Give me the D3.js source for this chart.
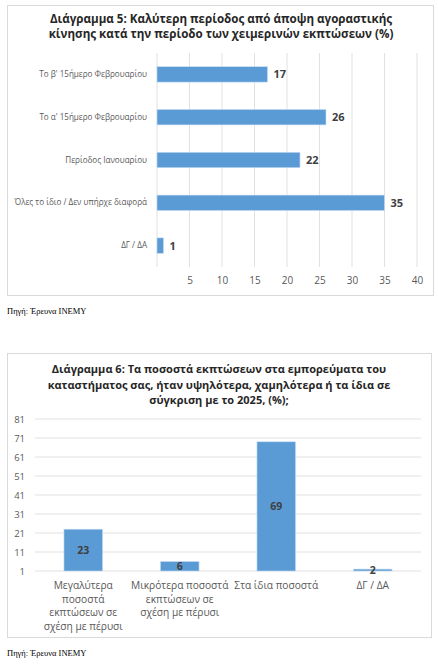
<!DOCTYPE html>
<html>
<head>
<meta charset="utf-8">
<script src="https://cdn.jsdelivr.net/npm/d3@7"></script>
<style>
  body { margin: 0; background: #fff; }
  svg { display: block; font-family: "Open Sans", "Noto Sans", sans-serif; }
</style>
</head>
<body>
<div id="chart"></div>
<script>
// Διάγραμμα 5
const periods = ["Το β' 15ήμερο Φεβρουαρίου", "Το α' 15ήμερο Φεβρουαρίου", "Περίοδος Ιανουαρίου", "Όλες το ίδιο / Δεν υπήρχε διαφορά", "ΔΓ / ΔΑ"];
const periodValues = [17, 26, 22, 35, 1];
const xTicks1 = [5, 10, 15, 20, 25, 30, 35, 40];

// Διάγραμμα 6
const discountCats = [
  ["Μεγαλύτερα", "ποσοστά", "εκπτώσεων σε", "σχέση με πέρυσι"],
  ["Μικρότερα ποσοστά", "εκπτώσεων σε", "σχέση με πέρυσι"],
  ["Στα ίδια ποσοστά"],
  ["ΔΓ / ΔΑ"]
];
const discountValues = [23, 6, 69, 2];
const yTicks2 = [1, 11, 21, 31, 41, 51, 61, 71, 81];

const source = "Πηγή: Έρευνα ΙΝΕΜΥ";
const barColor = "#5b9bd5";
const gridColor = "#d9d9d9";

const svg = d3.select("#chart").append("svg")
  .attr("width", 438)
  .attr("height", 664);

// ---------- Chart 5 ----------
svg.append("rect")
  .attr("x", 7.5).attr("y", 5.5).attr("width", 426).attr("height", 290)
  .attr("fill", "#fff").attr("stroke", "#d9d9d9");

const title1 = ["Διάγραμμα 5: Καλύτερη περίοδος από άποψη αγοραστικής", "κίνησης κατά την περίοδο των χειμερινών εκπτώσεων (%)"];
svg.append("g").selectAll("text").data(title1).join("text")
  .attr("x", 221).attr("y", (d, i) => 23 + i * 15)
  .attr("text-anchor", "middle")
  .attr("font-size", 11.6).attr("font-weight", "bold").attr("fill", "#262626")
  .text(d => d);

const x1 = d3.scaleLinear().domain([0, 40]).range([157, 417]);
const y1 = d3.scaleBand().domain(periods).range([53, 267]).paddingInner(0.64).paddingOuter(0.32);

const g1 = svg.append("g");
g1.selectAll(".grid").data([0].concat(xTicks1)).join("line")
  .attr("x1", d => x1(d)).attr("x2", d => x1(d))
  .attr("y1", 53).attr("y2", 267)
  .attr("stroke", gridColor).attr("stroke-width", 0.8);

g1.append("g")
  .attr("transform", "translate(0,267)")
  .call(d3.axisBottom(x1).tickValues(xTicks1).tickSize(0).tickPadding(10))
  .call(g => g.select(".domain").remove())
  .call(g => g.selectAll("text").attr("font-size", 10).attr("fill", "#595959").attr("font-family", "Open Sans, sans-serif"));

g1.selectAll(".bar").data(periods).join("rect")
  .attr("x", x1(0))
  .attr("y", d => y1(d))
  .attr("width", (d, i) => x1(periodValues[i]) - x1(0))
  .attr("height", y1.bandwidth())
  .attr("fill", barColor).attr("stroke", "#c5dcf0").attr("stroke-width", 0.6);

g1.selectAll(".val").data(periods).join("text")
  .attr("x", (d, i) => x1(periodValues[i]) + 6)
  .attr("y", d => y1(d) + y1.bandwidth() / 2)
  .attr("dy", "0.36em")
  .attr("font-size", 11).attr("font-weight", "bold").attr("fill", "#404040")
  .text((d, i) => periodValues[i]);

g1.append("g")
  .attr("transform", `translate(${x1(0)},0)`)
  .call(d3.axisLeft(y1).tickSize(0).tickPadding(10))
  .call(g => g.select(".domain").remove())
  .call(g => g.selectAll("text").attr("font-size", 8.1).attr("fill", "#595959").attr("font-family", "Open Sans, sans-serif"));

svg.append("text")
  .attr("x", 7).attr("y", 314)
  .attr("font-family", "Liberation Serif, serif").attr("font-size", 8.5).attr("fill", "#000")
  .text(source);

// ---------- Chart 6 ----------
svg.append("rect")
  .attr("x", 7.5).attr("y", 353.5).attr("width", 424).attr("height", 284)
  .attr("fill", "#fff").attr("stroke", "#d9d9d9");

const title2 = ["Διάγραμμα 6: Τα ποσοστά εκπτώσεων στα εμπορεύματα του", "καταστήματος σας, ήταν υψηλότερα, χαμηλότερα ή τα ίδια σε", "σύγκριση με το 2025, (%);"];
svg.append("g").selectAll("text").data(title2).join("text")
  .attr("x", 219).attr("y", (d, i) => 373 + i * 15.5)
  .attr("text-anchor", "middle")
  .attr("font-size", 11).attr("font-weight", "bold").attr("fill", "#262626")
  .text(d => d);

const x2 = d3.scaleBand().domain(d3.range(discountValues.length)).range([35, 421]).paddingInner(0.6).paddingOuter(0.3);
const y2 = d3.scaleLinear().domain([1, 81]).range([571, 419]);

const g2 = svg.append("g");
g2.selectAll(".grid").data(yTicks2).join("line")
  .attr("x1", 35).attr("x2", 421)
  .attr("y1", d => y2(d)).attr("y2", d => y2(d))
  .attr("stroke", gridColor).attr("stroke-width", 0.8);

g2.append("g")
  .attr("transform", "translate(25,0)")
  .call(d3.axisLeft(y2).tickValues(yTicks2).tickSize(0).tickPadding(0))
  .call(g => g.select(".domain").remove())
  .call(g => g.selectAll("text").attr("font-size", 9.5).attr("fill", "#595959").attr("font-family", "Open Sans, sans-serif"));

g2.selectAll(".bar").data(discountValues).join("rect")
  .attr("x", (d, i) => x2(i))
  .attr("y", d => y2(d))
  .attr("width", x2.bandwidth())
  .attr("height", d => y2(1) - y2(d))
  .attr("fill", barColor).attr("stroke", "#c5dcf0").attr("stroke-width", 0.6);

g2.selectAll(".val").data(discountValues).join("text")
  .attr("x", (d, i) => x2(i) + x2.bandwidth() / 2)
  .attr("y", d => (y2(d) + y2(1)) / 2)
  .attr("dy", "0.36em")
  .attr("text-anchor", "middle")
  .attr("font-size", 10.5).attr("font-weight", "bold").attr("fill", "#404040")
  .text(d => d);

discountCats.forEach((lines, i) => {
  g2.append("text")
    .attr("text-anchor", "middle")
    .attr("font-size", 10.2).attr("fill", "#595959")
    .selectAll("tspan").data(lines).join("tspan")
    .attr("x", x2(i) + x2.bandwidth() / 2)
    .attr("y", (d, j) => 589 + j * 13.6)
    .text(d => d);
});

svg.append("text")
  .attr("x", 7).attr("y", 656)
  .attr("font-family", "Liberation Serif, serif").attr("font-size", 8.5).attr("fill", "#000")
  .text(source);
</script>
</body>
</html>
